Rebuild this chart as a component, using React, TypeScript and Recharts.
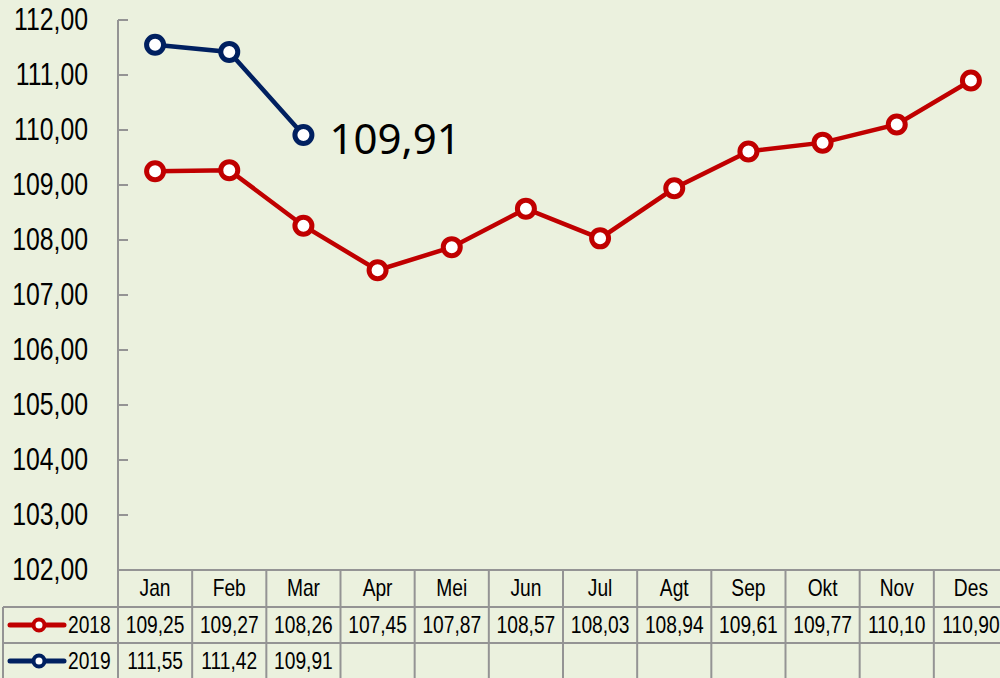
import React from "react";
import { LineChart, Line, XAxis, YAxis } from "recharts";

const MONTHS = ["Jan", "Feb", "Mar", "Apr", "Mei", "Jun", "Jul", "Agt", "Sep", "Okt", "Nov", "Des"];
const Y2018 = [109.25, 109.27, 108.26, 107.45, 107.87, 108.57, 108.03, 108.94, 109.61, 109.77, 110.1, 110.9];
const Y2019: (number | null)[] = [111.55, 111.42, 109.91, null, null, null, null, null, null, null, null, null];
const Y_TICKS = [102, 103, 104, 105, 106, 107, 108, 109, 110, 111, 112];

const data = MONTHS.map((m, i) => ({ month: m, a: Y2018[i], b: Y2019[i] }));

const RED = "#C00000";
const NAVY = "#002060";
const BG = "#EBF1DE";
const GRID = "#949494";

const CHART_W = 1010;
const PLOT_L = 118;
const PLOT_R = 1008;
const HALF = (PLOT_R - PLOT_L) / MONTHS.length / 2;
const ROW1 = 607;
const ROW2 = 643;
const BOTTOM = 680;

const fmt = (v: number) => v.toFixed(2).replace(".", ",");

// narrow Arial-like text (the original is squeezed horizontally)
const NText = ({ x, y, size, anchor = "middle", children }: any) => (
  <text
    transform={`translate(${x} ${y}) scale(0.8 1)`}
    textAnchor={anchor}
    dominantBaseline="central"
    fontFamily="'Liberation Sans', Arial, sans-serif"
    fontSize={size}
    fill="#000"
  >
    {children}
  </text>
);

const YTick = ({ x, y, payload }: any) => (
  <g>
    <line x1={x} x2={x + 10} y1={y} y2={y} stroke={GRID} strokeWidth={2} />
    <NText x={88} y={y} size={31} anchor="end">{fmt(payload.value)}</NText>
  </g>
);

const LegendKey = ({ y, color, label }: any) => (
  <g>
    <line x1={10} x2={64} y1={y} y2={y} stroke={color} strokeWidth={5} strokeLinecap="round" />
    <circle cx={39} cy={y} r={5.5} fill="#fff" stroke={color} strokeWidth={4} />
    <NText x={68} y={y} size={24} anchor="start">{label}</NText>
  </g>
);

const TableTick = ({ x, y, payload }: any) => {
  const i = payload.index;
  const l = x - HALF;
  const r = x + HALF;
  const v19 = Y2019[i];
  return (
    <g>
      {i === 0 && (
        <g>
          <line x1={l} x2={l} y1={y} y2={BOTTOM} stroke={GRID} strokeWidth={2} />
          <line x1={3} x2={l} y1={ROW1} y2={ROW1} stroke={GRID} strokeWidth={2} />
          <line x1={3} x2={l} y1={ROW2} y2={ROW2} stroke={GRID} strokeWidth={2} />
          <line x1={3} x2={3} y1={ROW1} y2={BOTTOM} stroke={GRID} strokeWidth={2} />
          <LegendKey y={625} color={RED} label="2018" />
          <LegendKey y={661} color={NAVY} label="2019" />
        </g>
      )}
      <line x1={r} x2={r} y1={y} y2={BOTTOM} stroke={GRID} strokeWidth={2} />
      <line x1={l} x2={r} y1={ROW1} y2={ROW1} stroke={GRID} strokeWidth={2} />
      <line x1={l} x2={r} y1={ROW2} y2={ROW2} stroke={GRID} strokeWidth={2} />
      <NText x={x} y={588} size={24}>{payload.value}</NText>
      <NText x={x} y={625} size={24}>{fmt(Y2018[i])}</NText>
      {v19 != null && <NText x={x} y={661} size={24}>{fmt(v19)}</NText>}
    </g>
  );
};

const LastLabel = ({ x, y, index, value }: any) => {
  if (index !== 2 || value == null) return null;
  return (
    <text x={x + 26} y={y + 3} dominantBaseline="central" fontFamily="'Noto Sans', sans-serif" fontSize={42} fill="#000">
      {fmt(value)}
    </text>
  );
};

const dot = (color: string) => ({ r: 8.5, fill: "#fff", stroke: color, strokeWidth: 5 });

export default function App() {
  return (
    <div style={{ position: "fixed", left: 0, top: 0, width: 1000, height: 678, overflow: "hidden", background: BG }}>
      <LineChart width={CHART_W} height={678} data={data} margin={{ top: 20, right: CHART_W - PLOT_R, left: 0, bottom: 0 }}>
        <YAxis
          width={PLOT_L}
          domain={[102, 112]}
          ticks={Y_TICKS}
          interval={0}
          axisLine={{ stroke: GRID, strokeWidth: 2 }}
          tickLine={false}
          tickSize={0}
          tickMargin={0}
          tick={<YTick />}
        />
        <XAxis
          dataKey="month"
          height={108}
          interval={0}
          padding={{ left: HALF, right: HALF }}
          axisLine={{ stroke: GRID, strokeWidth: 2 }}
          tickLine={false}
          tickSize={0}
          tickMargin={0}
          tick={<TableTick />}
        />
        <Line
          dataKey="a"
          stroke={RED}
          strokeWidth={4.5}
          dot={dot(RED)}
          activeDot={false}
          isAnimationActive={false}
        />
        <Line
          dataKey="b"
          stroke={NAVY}
          strokeWidth={4.5}
          dot={dot(NAVY)}
          activeDot={false}
          connectNulls={false}
          label={<LastLabel />}
          isAnimationActive={false}
        />
      </LineChart>
    </div>
  );
}
